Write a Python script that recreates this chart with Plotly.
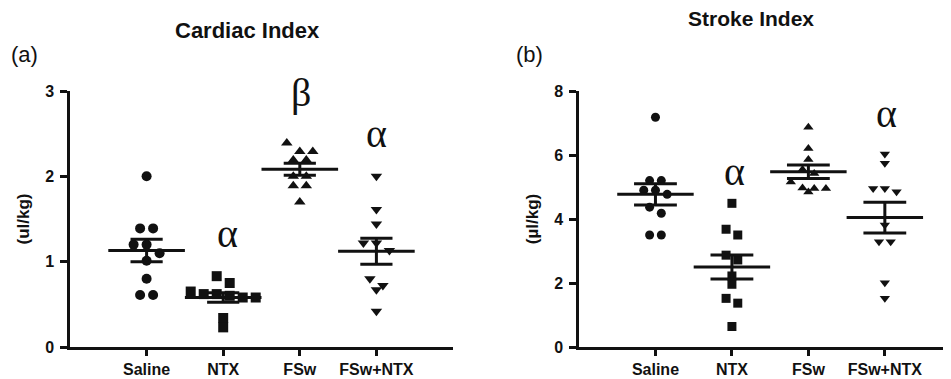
import numpy as np
import plotly.graph_objects as go

W, H = 951, 379
OFF = 8  # page body margin offset (px)
categories = ["Saline", "NTX", "FSw", "FSw+NTX"]

# Cardiac Index (panel a)
ci_saline = [2.00, 1.39, 1.39, 1.20, 1.20, 1.10, 1.01, 0.80, 0.61, 0.61]
ci_ntx = [0.83, 0.75, 0.65, 0.62, 0.62, 0.60, 0.58, 0.58, 0.34, 0.23]
ci_fsw = [2.39, 2.29, 2.29, 2.19, 2.19, 2.00, 2.00, 1.89, 1.89, 1.70]
ci_fswntx = [2.00, 1.61, 1.44, 1.22, 1.22, 1.13, 0.80, 0.72, 0.67, 0.42]

# Stroke Index (panel b)
si_saline = [7.18, 5.20, 5.20, 4.90, 4.90, 4.77, 4.37, 4.18, 3.50, 3.50]
si_ntx = [4.49, 3.68, 3.50, 2.87, 2.72, 2.22, 1.96, 1.52, 1.37, 0.64]
si_fsw = [6.87, 6.20, 5.86, 5.55, 5.42, 5.16, 4.97, 4.95, 4.95, 4.84]
si_fswntx = [6.03, 5.74, 4.95, 4.95, 4.85, 3.81, 3.29, 3.29, 2.01, 1.52]

ci_ticks = [0, 1, 2, 3]
si_ticks = [0, 2, 4, 6, 8]

symbols = ["circle", "square", "triangle-up", "triangle-down"]

FONT = "Liberation Sans, Arial, sans-serif"
INK = "#111111"

fig = go.Figure()


def px_x(p):
    return (p - OFF) / W


def px_y(p):
    return 1 - (p - OFF) / H


# panel geometry (page pixels)
panels = [
    dict(xd=(70, 453), yd=(347, 91), xr=(-1, 4), yr=(0, 3), ticks=ci_ticks,
         groups=[ci_saline, ci_ntx, ci_fsw, ci_fswntx], ms=10, sem_half=0.21,
         xa="x", ya="y", title="(ul/kg)"),
    dict(xd=(579, 959), yd=(347, 91), xr=(-1, 3.97), yr=(0, 8), ticks=si_ticks,
         groups=[si_saline, si_ntx, si_fsw, si_fswntx], ms=9, sem_half=0.28,
         xa="x2", ya="y2", title="(\u00b5l/kg)"),
]


def swarm(vals, ppy, ppx, ms):
    """Spread points sharing a row symmetrically (GraphPad-like)."""
    order = np.argsort(vals)[::-1]
    offs = np.zeros(len(vals))
    groups = []
    for i in order:
        if groups and abs(vals[groups[-1][0]] - vals[i]) * ppy < ms * 0.9:
            groups[-1].append(i)
        else:
            groups.append([i])
    for g in groups:
        n = len(g)
        g_sorted = sorted(g, key=lambda k: -vals[k])
        for j, k in enumerate(g_sorted):
            offs[k] = (j - (n - 1) / 2) * ms * 1.3 / ppx
    return offs


for p in panels:
    ppx = (p["xd"][1] - p["xd"][0]) / (p["xr"][1] - p["xr"][0])
    ppy = (p["yd"][0] - p["yd"][1]) / (p["yr"][1] - p["yr"][0])
    for ci, vals in enumerate(p["groups"]):
        v = np.array(vals, dtype=float)
        offs = swarm(v, ppy, ppx, p["ms"])
        fig.add_trace(go.Scatter(
            x=ci + offs, y=v, mode="markers", xaxis=p["xa"], yaxis=p["ya"],
            marker=dict(symbol=symbols[ci], size=p["ms"], color=INK, line=dict(width=0)),
            showlegend=False, cliponaxis=False))
        m = v.mean()
        sem = v.std(ddof=1) / np.sqrt(len(v))
        h = p["sem_half"]
        fig.add_trace(go.Scatter(
            x=[ci - 0.5, ci + 0.5, None, ci - h, ci + h, None, ci - h, ci + h, None, ci, ci],
            y=[m, m, None, m + sem, m + sem, None, m - sem, m - sem, None, m - sem, m + sem],
            mode="lines", line=dict(color=INK, width=3), xaxis=p["xa"], yaxis=p["ya"],
            showlegend=False, hoverinfo="skip"))

layout = dict(
    width=W, height=H, margin=dict(l=0, r=0, t=0, b=0, pad=0, autoexpand=False),
    plot_bgcolor="white", paper_bgcolor="white", showlegend=False,
    font=dict(family=FONT, color=INK),
)
for i, p in enumerate(panels):
    sx = "" if i == 0 else "2"
    layout["xaxis" + sx] = dict(
        domain=[px_x(p["xd"][0]), min(1.0, px_x(p["xd"][1]))], range=list(p["xr"]),
        anchor="y" + sx, showline=True, linecolor=INK, linewidth=2.5,
        ticks="outside", ticklen=6, tickwidth=2.5, tickcolor=INK,
        tickmode="array", tickvals=list(range(len(categories))), ticktext=categories,
        tickfont=dict(size=16, family=FONT, color=INK, weight="bold"),
        showgrid=False, zeroline=False, fixedrange=True, automargin=False)
    layout["yaxis" + sx] = dict(
        domain=[px_y(p["yd"][0]), px_y(p["yd"][1])], range=list(p["yr"]),
        anchor="x" + sx, showline=True, linecolor=INK, linewidth=2.5,
        ticks="outside", ticklen=7, tickwidth=2.5, tickcolor=INK,
        tickmode="array", tickvals=p["ticks"], ticktext=[str(t) for t in p["ticks"]],
        tickfont=dict(size=16, family=FONT, color=INK, weight="bold"),
        ticklabelstandoff=3,
        title=dict(text=p["title"], font=dict(size=17, family=FONT, color=INK, weight="bold"),
                   standoff=12),
        showgrid=False, zeroline=False, fixedrange=True, automargin=False)


def ann(text, xp, yp, size, bold=False, family=FONT):
    f = dict(size=size, family=family, color=INK)
    if bold:
        f["weight"] = "bold"
    return dict(text=text, x=px_x(xp), y=px_y(yp), xref="paper", yref="paper",
                xanchor="center", yanchor="middle", showarrow=False, font=f)


greek = "Liberation Serif, Times New Roman, serif"
annotations = [
    ann("Cardiac Index", 247, 30, 22, True),
    ann("Stroke Index", 751, 19, 21, True),
    ann("(a)", 24, 55, 22),
    ann("(b)", 529, 55, 22),
    ann("\u03b2", 301, 93, 40, family=greek),
]
marks = [("\u03b1", 1.06, 1.33, "x", "y"), ("\u03b1", 3, 2.5, "x", "y"),
         ("\u03b1", 1.04, 5.5, "x2", "y2"), ("\u03b1", 3.02, 7.3, "x2", "y2")]
for t, cx, cy, xr, yr in marks:
    annotations.append(dict(text=t, x=cx, y=cy, xref=xr, yref=yr, showarrow=False,
                            xanchor="center", yanchor="middle",
                            font=dict(size=40, family=greek, color=INK)))
layout["annotations"] = annotations

fig.update_layout(**layout)
fig.write_html("out.html")
